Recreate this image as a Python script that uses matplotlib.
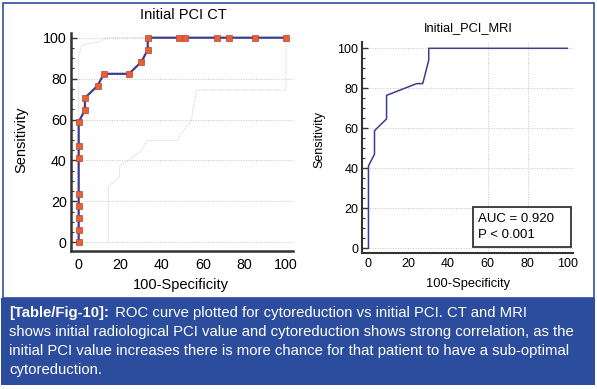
import matplotlib
matplotlib.use('Agg')
import matplotlib.pyplot as plt
from matplotlib.patches import Rectangle
from matplotlib import font_manager

# ---------------- data ----------------
ct_fpr = [0, 0, 0, 0, 0, 0, 0, 0, 3.03, 3.03, 9.09, 12.12, 24.24, 30.30, 33.33, 33.33,
          48.48, 51.52, 66.67, 72.73, 84.85, 100]
ct_tpr = [0, 5.88, 11.76, 17.65, 23.53, 41.18, 47.06, 58.82, 64.71, 70.59, 76.47, 82.35,
          82.35, 88.24, 94.12, 100, 100, 100, 100, 100, 100, 100]
ct_upper_x = [0, 0, 1.5, 4, 10, 13.5, 100]
ct_upper_y = [0, 91, 96, 97, 98, 100, 100]
ct_lower_x = [14.3, 14.3, 19.6, 19.9, 23.1, 29.6, 33.1, 47.3, 49.7, 54.5, 55, 56.6, 56.6, 100, 100]
ct_lower_y = [0, 27.2, 31.8, 37.8, 39.4, 44.3, 49.7, 49.7, 53.3, 59.8, 64.7, 72.8, 74.4, 74.4, 100]

mri_fpr = [0, 0, 3.03, 3.03, 9.09, 9.09, 24.24, 27.27, 30.30, 30.30, 100]
mri_tpr = [0, 41.18, 47.06, 58.82, 64.71, 76.47, 82.35, 82.35, 94.12, 100, 100]

ticks = [0, 20, 40, 60, 80, 100]
mri_vgrid = [60, 80]
auc_text = ["AUC = 0.920", "P < 0.001"]
title_ct = "Initial PCI CT"
title_mri = "Initial_PCI_MRI"
xlabel = "100-Specificity"
ylabel = "Sensitivity"
caption_bold = "[Table/Fig-10]:"
caption_lines = [" ROC curve plotted for cytoreduction vs initial PCI. CT and MRI",
                 "shows initial radiological PCI value and cytoreduction shows strong correlation, as the",
                 "initial PCI value increases there is more chance for that patient to have a sub-optimal",
                 "cytoreduction."]

# ---------------- style ----------------
plt.rcParams['font.family'] = ['Liberation Sans', 'DejaVu Sans']
W, H = 597, 389
fig = plt.figure(figsize=(5.97, 3.89), dpi=100)
fig.patch.set_facecolor('white')

def fx(x): return x / W
def fy(y): return 1 - y / H

BLUE = '#2C4D9D'
LINE = '#3B3D8E'
SPINE = '#333333'
GRID = '#c4c4c4'
CI = '#bdbdbd'

def style_axes(ax, fs, xpad, spw):
    for s in ['top', 'right']:
        ax.spines[s].set_visible(False)
    for s in ['left', 'bottom']:
        ax.spines[s].set_color(SPINE)
        ax.spines[s].set_linewidth(spw)
    ax.set_xticks(ticks)
    ax.set_yticks(ticks)
    ax.set_yticks(range(0, 101, 5), minor=True)
    ax.tick_params(axis='y', which='major', direction='in', length=4.5, width=1.0,
                   color=SPINE, labelsize=fs, pad=3)
    ax.tick_params(axis='y', which='minor', direction='in', length=2.3, width=0.8, color=SPINE)
    ax.tick_params(axis='x', which='both', length=0, labelsize=fs, pad=xpad)
    ax.grid(axis='y', which='major', linestyle=(0, (1, 1.6)), color=GRID, linewidth=0.7, zorder=0)
    ax.set_axisbelow(True)
    ax.patch.set_alpha(0)

# ---- left panel (CT)
ax1 = fig.add_axes([fx(71), fy(250.7), (293 - 71) / W, (250.7 - 33) / H])
ax1.set_xlim(-3.7, 103.4)
ax1.set_ylim(-4.1, 102.3)
style_axes(ax1, 10.3, 5, 1.8)
ax1.plot(ct_upper_x, ct_upper_y, linestyle=(0, (1, 1.4)), color=CI, linewidth=0.6, zorder=1)
ax1.plot(ct_lower_x, ct_lower_y, linestyle=(0, (1, 1.4)), color=CI, linewidth=0.6, zorder=1)
ax1.plot(ct_fpr, ct_tpr, color=LINE, linewidth=1.6, marker='s', markersize=4.2,
         markerfacecolor='#E8603A', markeredgecolor='#B8442A', markeredgewidth=0.5, zorder=3,
         clip_on=False)

fig.text(fx(183), fy(15), title_ct, ha='center', va='center', fontsize=10.5)
fig.text(fx(181), fy(285), xlabel, ha='center', va='center', fontsize=10.5)
fig.text(fx(21), fy(140), ylabel, ha='center', va='center', rotation=90, fontsize=10.5)

# ---- right panel (MRI)
ax2 = fig.add_axes([fx(362.5), fy(253.3), (573 - 362.5) / W, (253.3 - 41.7) / H])
ax2.set_xlim(-3.0, 102.8)
ax2.set_ylim(-2.5, 103.3)
style_axes(ax2, 9, 3.6, 1.5)
for v in mri_vgrid:
    ax2.axvline(v, linestyle=(0, (1, 1.6)), color=GRID, linewidth=0.7, zorder=0)
ax2.plot(mri_fpr, mri_tpr, color=LINE, linewidth=1.1, zorder=3)

fig.text(fx(468), fy(28), title_mri, ha='center', va='center', fontsize=9.3)
fig.text(fx(468), fy(284), xlabel, ha='center', va='center', fontsize=9.3)
fig.text(fx(319), fy(140), ylabel, ha='center', va='center', rotation=90, fontsize=9)

# AUC box
fig.patches.append(Rectangle((fx(472.7), fy(246.7)), (571 - 472.7) / W, (246.7 - 206.7) / H,
                             transform=fig.transFigure, facecolor='white',
                             edgecolor='#333333', linewidth=1.3, zorder=5))
fig.text(fx(478.5), fy(219), auc_text[0], ha='left', va='center', fontsize=9.5, zorder=6)
fig.text(fx(478.5), fy(234.5), auc_text[1], ha='left', va='center', fontsize=9.5, zorder=6)

# ---- outer frame and caption box
fig.patches.append(Rectangle((fx(3), fy(298)), (594 - 3) / W, (298 - 3) / H,
                             transform=fig.transFigure, facecolor='none',
                             edgecolor=BLUE, linewidth=1.2, zorder=1))
fig.patches.append(Rectangle((fx(1), fy(385)), (595 - 1) / W, (385 - 298) / H,
                             transform=fig.transFigure, facecolor=BLUE,
                             edgecolor='none', zorder=2))

# caption font: narrow if available
cap_family = 'Liberation Sans'
try:
    font_manager.findfont('Liberation Sans Narrow', fallback_to_default=False)
    cap_family = 'Liberation Sans Narrow'
except Exception:
    pass

fig.canvas.draw()
renderer = fig.canvas.get_renderer()
probe = fig.text(0, 0, caption_lines[1], fontsize=10, family=cap_family)
wpx = probe.get_window_extent(renderer).width
probe.remove()
cap_fs = 10 * 568.0 / wpx

line_y = [313, 332, 351, 370]
tb = fig.text(fx(9), fy(line_y[0]), caption_bold, ha='left', va='center', fontsize=cap_fs,
              family=cap_family, fontweight='bold', color='white', zorder=6)
bb = tb.get_window_extent(renderer)
fig.text(bb.x1 / W + fx(2), fy(line_y[0]), caption_lines[0], ha='left', va='center',
         fontsize=cap_fs, family=cap_family, color='white', zorder=6)
for ln, yy in zip(caption_lines[1:], line_y[1:]):
    fig.text(fx(9), fy(yy), ln, ha='left', va='center', fontsize=cap_fs,
             family=cap_family, color='white', zorder=6)

fig.savefig('out.png', dpi=100, facecolor='white')
